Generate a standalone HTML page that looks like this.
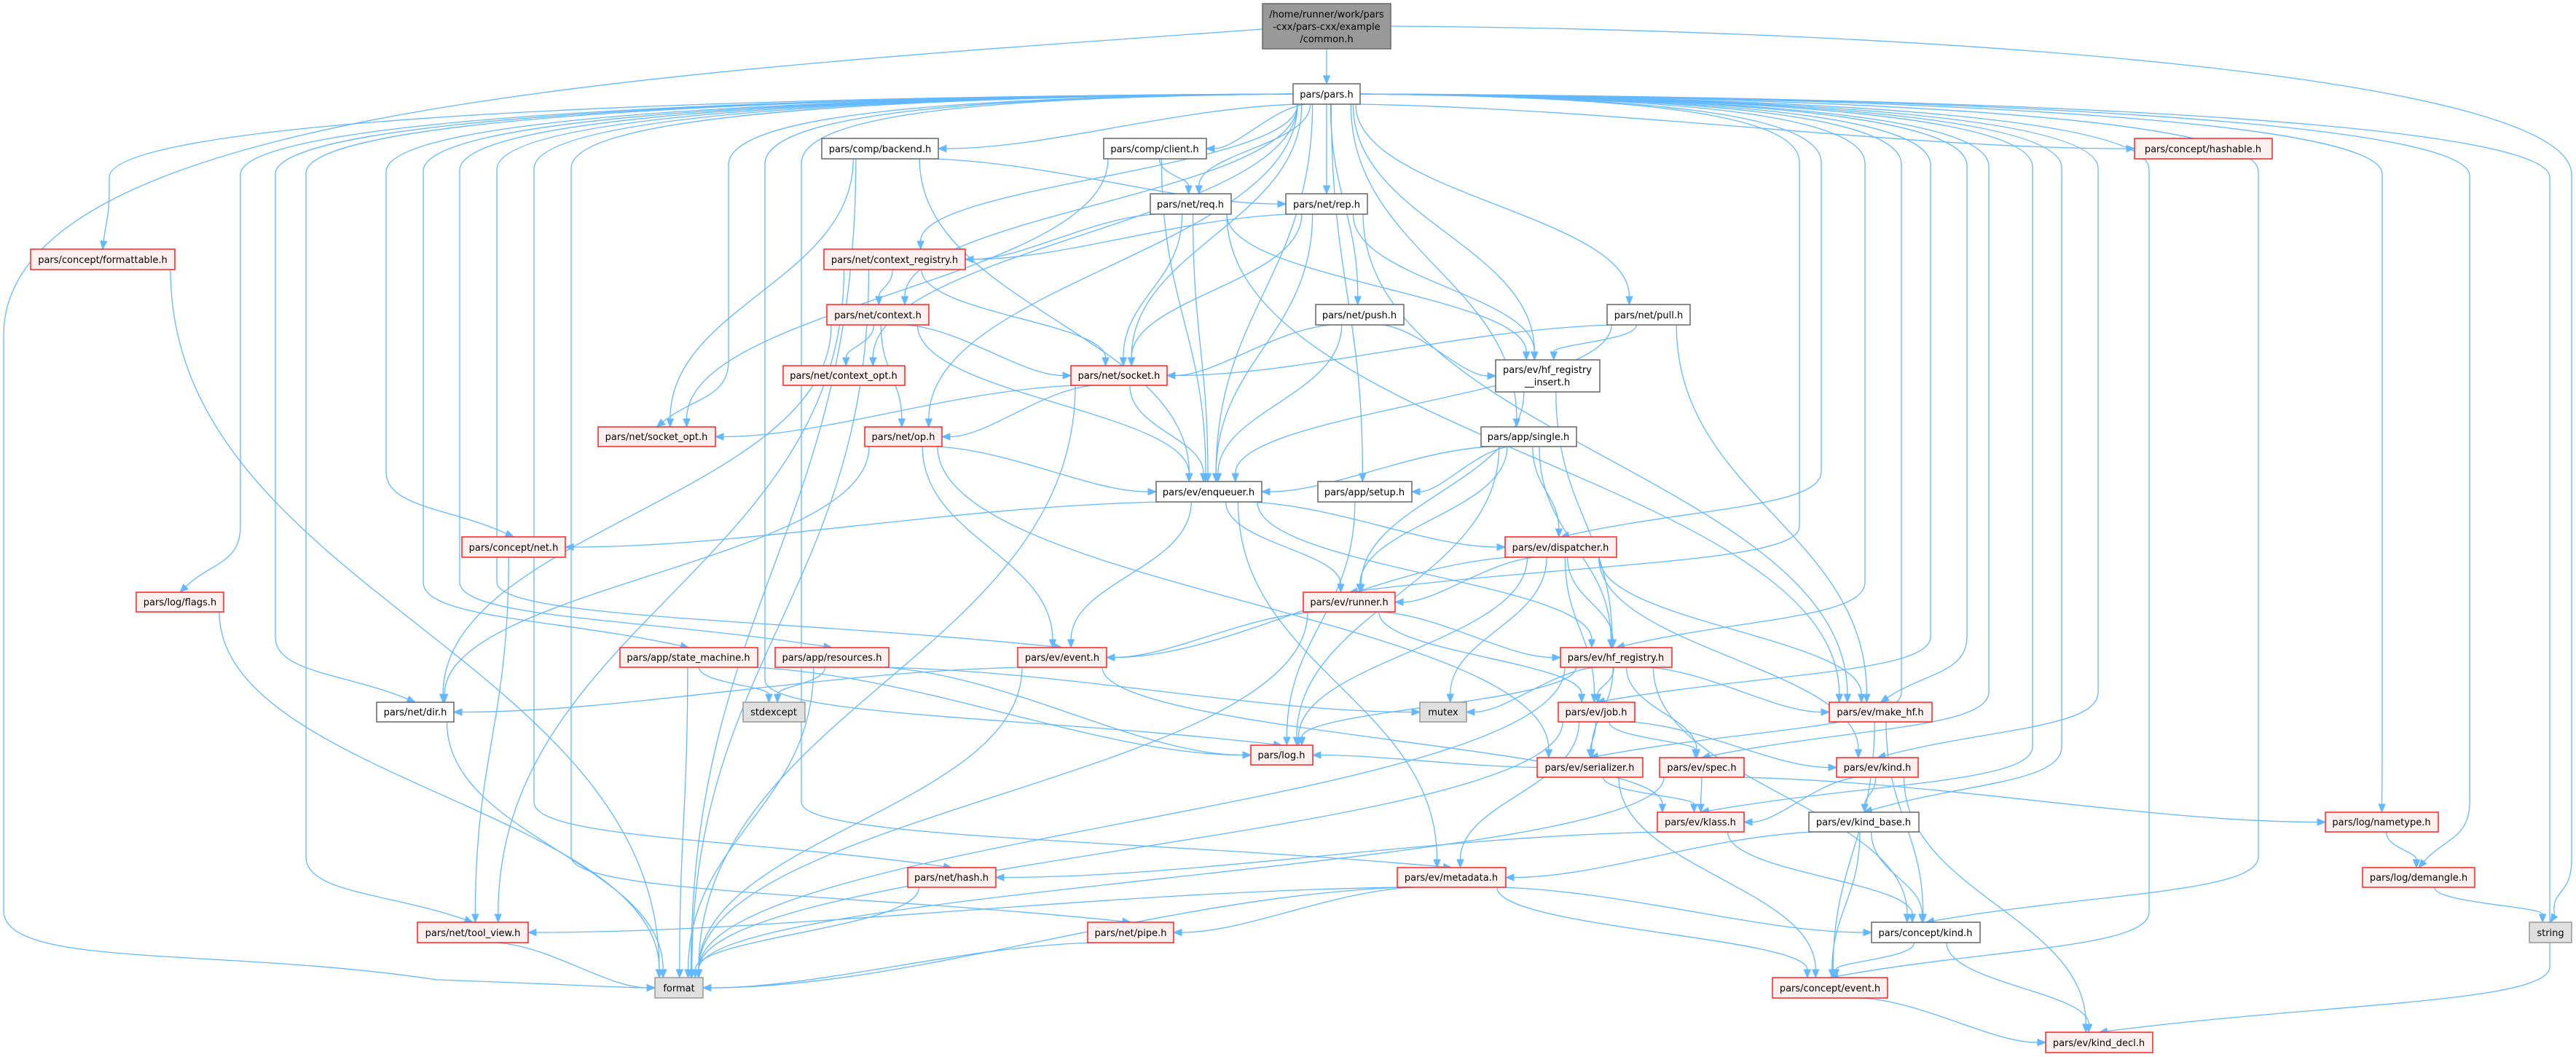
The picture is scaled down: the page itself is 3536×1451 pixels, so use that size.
<!DOCTYPE html>
<html><head><meta charset="utf-8">
<style>
html,body{margin:0;padding:0;background:#fff;}
svg{display:block;}
text{font-family:"DejaVu Sans","Liberation Sans",sans-serif;font-size:13px;fill:#000;}
</style></head>
<body>
<svg id="g" width="3536" height="1451" viewBox="0 0 3536 1451" xmlns="http://www.w3.org/2000/svg">
<g id="edges" fill="none" stroke="#63B8FF" stroke-width="1.3"></g>
<g id="arrows" fill="#63B8FF" stroke="#63B8FF"></g>
<g id="nodes">
<g id="common" class="gr2"><rect x="1733" y="5" width="176" height="62"/><text x="1821" y="24" text-anchor="middle">/home/runner/work/pars</text><text x="1821" y="41" text-anchor="middle">-cxx/pars-cxx/example</text><text x="1821" y="58" text-anchor="middle">/common.h</text></g>
<g id="pars" class="w"><rect x="1775" y="115" width="92" height="28"/><text x="1821" y="134" text-anchor="middle">pars/pars.h</text></g>
<g id="formattable" class="r"><rect x="42" y="342" width="198" height="28"/><text x="141" y="361" text-anchor="middle">pars/concept/formattable.h</text></g>
<g id="backend" class="w"><rect x="1128" y="190" width="160" height="28"/><text x="1208" y="209" text-anchor="middle">pars/comp/backend.h</text></g>
<g id="client" class="w"><rect x="1515" y="190" width="141" height="28"/><text x="1585" y="209" text-anchor="middle">pars/comp/client.h</text></g>
<g id="req" class="w"><rect x="1579" y="266" width="111" height="28"/><text x="1634" y="285" text-anchor="middle">pars/net/req.h</text></g>
<g id="rep" class="w"><rect x="1765" y="266" width="112" height="28"/><text x="1821" y="285" text-anchor="middle">pars/net/rep.h</text></g>
<g id="hashable" class="r"><rect x="2930" y="190" width="189" height="28"/><text x="3024" y="209" text-anchor="middle">pars/concept/hashable.h</text></g>
<g id="ctxreg" class="r"><rect x="1131" y="342" width="194" height="28"/><text x="1228" y="361" text-anchor="middle">pars/net/context_registry.h</text></g>
<g id="context" class="r"><rect x="1135" y="418" width="140" height="28"/><text x="1205" y="437" text-anchor="middle">pars/net/context.h</text></g>
<g id="push" class="w"><rect x="1806" y="418" width="121" height="28"/><text x="1866" y="437" text-anchor="middle">pars/net/push.h</text></g>
<g id="pull" class="w"><rect x="2206" y="418" width="114" height="28"/><text x="2263" y="437" text-anchor="middle">pars/net/pull.h</text></g>
<g id="hfins" class="w"><rect x="2053" y="494" width="143" height="44"/><text x="2124" y="512" text-anchor="middle">pars/ev/hf_registry</text><text x="2124" y="529" text-anchor="middle">__insert.h</text></g>
<g id="ctxopt" class="r"><rect x="1075" y="502" width="167" height="27"/><text x="1158" y="520" text-anchor="middle">pars/net/context_opt.h</text></g>
<g id="socket" class="r"><rect x="1470" y="502" width="132" height="27"/><text x="1536" y="520" text-anchor="middle">pars/net/socket.h</text></g>
<g id="sockopt" class="r"><rect x="821" y="586" width="161" height="27"/><text x="901" y="604" text-anchor="middle">pars/net/socket_opt.h</text></g>
<g id="op" class="r"><rect x="1187" y="586" width="106" height="27"/><text x="1240" y="604" text-anchor="middle">pars/net/op.h</text></g>
<g id="single" class="w"><rect x="2033" y="586" width="131" height="27"/><text x="2098" y="604" text-anchor="middle">pars/app/single.h</text></g>
<g id="enq" class="w"><rect x="1587" y="661" width="145" height="28"/><text x="1659" y="680" text-anchor="middle">pars/ev/enqueuer.h</text></g>
<g id="setup" class="w"><rect x="1809" y="661" width="129" height="28"/><text x="1873" y="680" text-anchor="middle">pars/app/setup.h</text></g>
<g id="cnet" class="r"><rect x="634" y="737" width="142" height="28"/><text x="705" y="756" text-anchor="middle">pars/concept/net.h</text></g>
<g id="disp" class="r"><rect x="2066" y="737" width="153" height="28"/><text x="2142" y="756" text-anchor="middle">pars/ev/dispatcher.h</text></g>
<g id="flags" class="r"><rect x="187" y="813" width="120" height="27"/><text x="247" y="831" text-anchor="middle">pars/log/flags.h</text></g>
<g id="runner" class="r"><rect x="1789" y="813" width="126" height="27"/><text x="1852" y="831" text-anchor="middle">pars/ev/runner.h</text></g>
<g id="sm" class="r"><rect x="851" y="889" width="189" height="27"/><text x="945" y="907" text-anchor="middle">pars/app/state_machine.h</text></g>
<g id="res" class="r"><rect x="1064" y="889" width="156" height="27"/><text x="1142" y="907" text-anchor="middle">pars/app/resources.h</text></g>
<g id="event" class="r"><rect x="1397" y="889" width="122" height="27"/><text x="1458" y="907" text-anchor="middle">pars/ev/event.h</text></g>
<g id="hfreg" class="r"><rect x="2142" y="889" width="153" height="27"/><text x="2218" y="907" text-anchor="middle">pars/ev/hf_registry.h</text></g>
<g id="dir" class="w"><rect x="517" y="964" width="106" height="27"/><text x="570" y="982" text-anchor="middle">pars/net/dir.h</text></g>
<g id="stdexcept" class="g"><rect x="1020" y="964" width="85" height="27"/><text x="1062" y="982" text-anchor="middle">stdexcept</text></g>
<g id="mutex" class="g"><rect x="1949" y="964" width="64" height="27"/><text x="1981" y="982" text-anchor="middle">mutex</text></g>
<g id="job" class="r"><rect x="2139" y="964" width="105" height="27"/><text x="2191" y="982" text-anchor="middle">pars/ev/job.h</text></g>
<g id="makehf" class="r"><rect x="2511" y="964" width="141" height="27"/><text x="2581" y="982" text-anchor="middle">pars/ev/make_hf.h</text></g>
<g id="ser" class="r"><rect x="2110" y="1040" width="145" height="27"/><text x="2182" y="1058" text-anchor="middle">pars/ev/serializer.h</text></g>
<g id="spec" class="r"><rect x="2278" y="1040" width="116" height="27"/><text x="2336" y="1058" text-anchor="middle">pars/ev/spec.h</text></g>
<g id="kind" class="r"><rect x="2521" y="1040" width="112" height="27"/><text x="2577" y="1058" text-anchor="middle">pars/ev/kind.h</text></g>
<g id="log" class="r"><rect x="1717" y="1023" width="85" height="27"/><text x="1759" y="1041" text-anchor="middle">pars/log.h</text></g>
<g id="klass" class="r"><rect x="2275" y="1115" width="119" height="27"/><text x="2334" y="1133" text-anchor="middle">pars/ev/klass.h</text></g>
<g id="kbase" class="w"><rect x="2483" y="1115" width="151" height="27"/><text x="2558" y="1133" text-anchor="middle">pars/ev/kind_base.h</text></g>
<g id="nametype" class="r"><rect x="3192" y="1115" width="155" height="27"/><text x="3269" y="1133" text-anchor="middle">pars/log/nametype.h</text></g>
<g id="hash" class="r"><rect x="1246" y="1191" width="121" height="27"/><text x="1306" y="1209" text-anchor="middle">pars/net/hash.h</text></g>
<g id="meta" class="r"><rect x="1918" y="1191" width="149" height="27"/><text x="1992" y="1209" text-anchor="middle">pars/ev/metadata.h</text></g>
<g id="demangle" class="r"><rect x="3243" y="1191" width="154" height="27"/><text x="3320" y="1209" text-anchor="middle">pars/log/demangle.h</text></g>
<g id="tool" class="r"><rect x="573" y="1266" width="152" height="28"/><text x="649" y="1285" text-anchor="middle">pars/net/tool_view.h</text></g>
<g id="pipe" class="r"><rect x="1493" y="1266" width="118" height="28"/><text x="1552" y="1285" text-anchor="middle">pars/net/pipe.h</text></g>
<g id="ckind" class="w"><rect x="2569" y="1266" width="149" height="28"/><text x="2643" y="1285" text-anchor="middle">pars/concept/kind.h</text></g>
<g id="string" class="g"><rect x="3472" y="1266" width="58" height="28"/><text x="3501" y="1285" text-anchor="middle">string</text></g>
<g id="format" class="g"><rect x="899" y="1342" width="66" height="28"/><text x="932" y="1361" text-anchor="middle">format</text></g>
<g id="cevent" class="r"><rect x="2433" y="1342" width="158" height="28"/><text x="2512" y="1361" text-anchor="middle">pars/concept/event.h</text></g>
<g id="kdecl" class="r"><rect x="2808" y="1417" width="147" height="28"/><text x="2881" y="1436" text-anchor="middle">pars/ev/kind_decl.h</text></g>
</g>
</svg>
<style>
.r rect{fill:#FFF0F0;stroke:#FF2020;stroke-width:1.5;}
.w rect{fill:#fff;stroke:#666;stroke-width:1.5;}
.g rect{fill:#E0E0E0;stroke:#999;stroke-width:1.5;}
.gr2 rect{fill:#999;stroke:#666;stroke-width:1.5;}
</style>
<script>
(function(){
var NS="http://www.w3.org/2000/svg";
function N(id){var r=document.querySelector('#'+id+' rect');var x=+r.getAttribute('x'),y=+r.getAttribute('y'),w=+r.getAttribute('width'),h=+r.getAttribute('height');return {x1:x,y1:y,x2:x+w,y2:y+h,cx:x+w/2,cy:y+h/2};}
var E=document.getElementById('edges'),A=document.getElementById('arrows');
function arrow(px,py,ex,ey){var dx=ex-px,dy=ey-py,l=Math.sqrt(dx*dx+dy*dy)||1;dx/=l;dy/=l;var L=11,W=4.5;var bx=ex-dx*L,by=ey-dy*L;var p=document.createElementNS(NS,'polygon');p.setAttribute('points',ex+','+ey+' '+(bx-dy*W)+','+(by+dx*W)+' '+(bx+dy*W)+','+(by-dx*W));A.appendChild(p);return [bx,by];}
function path(d){var p=document.createElementNS(NS,'path');p.setAttribute('d',d);E.appendChild(p);}
function edge(a,b){var s=N(a),t=N(b);
 var sx=Math.max(s.x1+6,Math.min(s.x2-6,s.cx+(t.cx-s.cx)*0.12)),sy=s.y2;
 var dxv=t.cx-s.cx, dyv=t.y1-s.y2;
 var tx,ty,c1x,c1y,c2x,c2y;
 if(dyv<12||Math.abs(dxv)>4.5*Math.max(dyv,1)&&dyv<260){
   // end at side
   if(t.cx<s.cx){tx=t.x2;}else{tx=t.x1;}
   ty=t.cy;
   if(dyv<12&&Math.abs(s.cy-t.cy)<60){sx=(t.cx<s.cx)?s.x1:s.x2;sy=s.cy;}
   c1x=sx+(tx-sx)*0.35;c1y=sy+(ty-sy)*0.1;c2x=sx+(tx-sx)*0.7;c2y=ty;
 }else{
   tx=t.cx+(s.cx-t.cx)*0.06;tx=Math.max(t.x1+6,Math.min(t.x2-6,tx));ty=t.y1;
   var m=(ty-sy);c1x=sx;c1y=sy+m*0.45;c2x=tx;c2y=ty-m*0.45;
 }
 var bb=arrow(c2x,c2y,tx,ty);
 path('M'+sx+','+sy+' C'+c1x+','+c1y+' '+c2x+','+c2y+' '+bb[0]+','+bb[1]);
}
// pars.h fan edges: route via top band then columns
function fan(b,col){var s=N('pars'),t=N(b);var sx=s.x1,sy=s.cy;var tx=t.cx,ty=t.y1;
 var left=col<s.x1; if(!left){sx=s.x2;}
 var yb=150+Math.abs(col-s.cx)*0.02;
 var bb=arrow(col+(tx-col)*0.5,ty-40,tx,ty);
 path('M'+sx+','+sy+' C'+(sx+(col-sx)*0.6)+','+(sy+4)+' '+col+','+(yb-10)+' '+col+','+(yb+60)+' L'+col+','+(ty-90)+' C'+col+','+(ty-40)+' '+(col+(tx-col)*0.5)+','+(ty-40)+' '+bb[0]+','+bb[1]);}
// common.h
edge('common','pars');
(function(){var s=N('common'),f=N('format');var bb=arrow(700,1356,f.x1,1356);path('M'+s.x1+',40 C900,100 5,150 5,460 L5,1250 C5,1330 300,1300 600,1345 C800,1352 850,1356 '+bb[0]+','+bb[1]);
 var t=N('string');var b2=arrow(3528,1220,t.cx,t.y1);path('M'+s.x2+',36 C2600,40 3530,100 3530,240 L3530,1180 C3530,1230 '+t.cx+',1220 '+b2[0]+','+b2[1]);})();
// pars fans
var fans=[['formattable',150],['flags',330],['tool',420],['dir',378],['cnet',530],['sm',581],['res',631],['event',682],['hash',733],['pipe',784],['sockopt',1000],['log',1050],['meta',1100],
['kdecl',3500],['demangle',3390],['nametype',3270],['ckind',3100],['cevent',2950],['kind',2880],['kbase',2830],['klass',2790],['spec',2730],['makehf',2700],['job',2650],['ser',2610],['hfreg',2560],['disp',2500],['runner',2470]];
fans.forEach(function(f){fan(f[0],f[1]);});
var L=[['pars','backend'],['pars','client'],['pars','req'],['pars','rep'],['pars','hashable'],['pars','ctxreg'],['pars','context'],['pars','push'],['pars','pull'],['pars','hfins'],['pars','ctxopt'],['pars','socket'],['pars','op'],['pars','single'],['pars','enq'],['pars','setup'],
['backend','rep'],['backend','enq'],['backend','sockopt'],['backend','format'],
['client','req'],['client','enq'],['client','sockopt'],
['req','ctxreg'],['req','socket'],['req','enq'],['req','hfins'],['req','makehf'],
['rep','ctxreg'],['rep','socket'],['rep','enq'],['rep','hfins'],['rep','makehf'],
['ctxreg','context'],['ctxreg','socket'],['ctxreg','tool'],['ctxreg','format'],
['context','ctxopt'],['context','socket'],['context','op'],['context','enq'],['context','dir'],
['push','socket'],['push','enq'],['push','hfins'],
['pull','socket'],['pull','enq'],['pull','hfins'],['pull','makehf'],
['hfins','hfreg'],['hfins','runner'],
['socket','sockopt'],['socket','op'],['socket','enq'],['socket','format'],
['op','enq'],['op','event'],['op','ser'],['op','dir'],
['single','enq'],['single','setup'],['single','disp'],['single','runner'],['single','hfreg'],['single','log'],
['enq','cnet'],['enq','disp'],['enq','runner'],['enq','event'],['enq','hfreg'],['enq','meta'],
['setup','log'],['cnet','tool'],
['disp','runner'],['disp','hfreg'],['disp','job'],['disp','mutex'],['disp','log'],['disp','event'],['disp','makehf'],['disp','kind'],
['flags','format'],['runner','event'],['runner','hfreg'],['runner','job'],['runner','format'],
['sm','stdexcept'],['sm','format'],['sm','log'],
['res','stdexcept'],['res','format'],['res','log'],['res','mutex'],
['event','dir'],['event','klass'],['event','format'],
['hfreg','mutex'],['hfreg','job'],['hfreg','makehf'],['hfreg','spec'],['hfreg','log'],['hfreg','format'],['hfreg','ckind'],['hfreg','ser'],
['dir','format'],['job','ser'],['job','spec'],['job','kind'],['job','meta'],['job','format'],
['makehf','cevent'],['makehf','ckind'],['ser','log'],['ser','klass'],['ser','cevent'],
['spec','klass'],['spec','nametype'],['spec','format'],
['kind','klass'],['kind','kbase'],['kind','kdecl'],['klass','hash'],['klass','ckind'],
['kbase','meta'],['kbase','ckind'],['kbase','cevent'],['nametype','demangle'],['demangle','string'],
['hash','format'],['meta','tool'],['meta','pipe'],['meta','format'],['meta','ckind'],['meta','cevent'],
['tool','format'],['pipe','format'],['ckind','cevent'],['ckind','kdecl'],['cevent','kdecl'],['formattable','format']];
L.forEach(function(e){edge(e[0],e[1]);});
})();
</script>
</body></html>
